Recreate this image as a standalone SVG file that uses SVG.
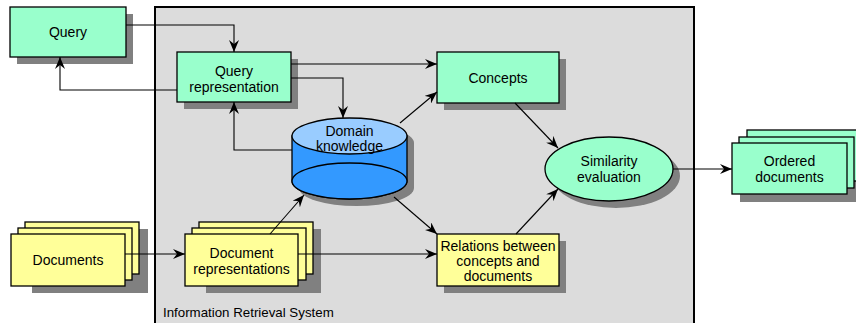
<svg xmlns="http://www.w3.org/2000/svg" width="856" height="323" viewBox="0 0 856 323">
<style>
text{font-family:"Liberation Sans",Arial,sans-serif;font-size:14px;fill:#000;text-anchor:middle}
.g{fill:#99ffcc;stroke:#000;stroke-width:1.3}
.y{fill:#ffff99;stroke:#000;stroke-width:1.3}
.sh{fill:#808080}
.c{fill:none;stroke:#000;stroke-width:1.1;marker-end:url(#ah)}
</style>
<defs>
<marker id="ah" viewBox="0 0 12 10" refX="12" refY="5" markerWidth="12" markerHeight="10" markerUnits="userSpaceOnUse" orient="auto">
<path d="M0,0 L12,5 L0,10 L4,5 z" fill="#000"/>
</marker>
</defs>
<rect width="856" height="323" fill="#fff"/>
<g id="system">
<rect x="155" y="7" width="539" height="330" fill="#dcdcdc" stroke="#000" stroke-width="2"/>
<text x="163" y="317" style="text-anchor:start;font-size:13.3px">Information Retrieval System</text>
</g>
<g id="query">
<rect class="sh" x="17" y="14" width="116" height="50"/>
<rect class="g" x="10" y="7" width="116" height="50"/>
<text x="68" y="37">Query</text>
</g>
<g id="query-representation">
<rect class="sh" x="184" y="59" width="114" height="50"/>
<rect class="g" x="177" y="52" width="114" height="50"/>
<text x="234" y="76">Query</text>
<text x="234" y="92">representation</text>
</g>
<g id="concepts">
<rect class="sh" x="444" y="59" width="122" height="51"/>
<rect class="g" x="437" y="52" width="122" height="51"/>
<text x="498" y="83">Concepts</text>
</g>
<g id="domain-knowledge">
<path class="sh" d="M299,143 A57.5,18 0 0 1 414,143 V188 A57.5,18 0 0 1 299,188 Z"/>
<path d="M292,136 V181 A57.5,18 0 0 0 407,181 V136 Z" fill="#3399ff" stroke="#000" stroke-width="1.3"/>
<ellipse cx="349.5" cy="181" rx="57.5" ry="18" fill="#3399ff" stroke="#000" stroke-width="1.3"/>
<ellipse cx="349.5" cy="136" rx="57.5" ry="18" fill="#99ccff" stroke="#000" stroke-width="1.3"/>
<text x="349.5" y="136">Domain</text>
<text x="349.5" y="151">knowledge</text>
</g>
<g id="documents">
<rect class="sh" x="32" y="229" width="116" height="64"/>
<rect class="y" x="25" y="222" width="114" height="52"/>
<rect class="y" x="18" y="228" width="114" height="52"/>
<rect class="y" x="11" y="234" width="114" height="52"/>
<text x="68" y="265">Documents</text>
</g>
<g id="document-representations">
<rect class="sh" x="206" y="229" width="115" height="64"/>
<rect class="y" x="199" y="222" width="114" height="52"/>
<rect class="y" x="192" y="228" width="114" height="52"/>
<rect class="y" x="185" y="234" width="113" height="52"/>
<text x="241.5" y="258">Document</text>
<text x="241.5" y="274">representations</text>
</g>
<g id="relations">
<rect class="sh" x="444" y="241" width="122" height="52"/>
<rect class="y" x="437" y="234" width="122" height="52"/>
<text x="498" y="251">Relations between</text>
<text x="498" y="266">concepts and</text>
<text x="498" y="281">documents</text>
</g>
<g id="similarity-evaluation">
<ellipse class="sh" cx="616" cy="176" rx="64" ry="32"/>
<ellipse class="g" cx="609" cy="169" rx="64" ry="32"/>
<text x="609" y="166">Similarity</text>
<text x="609" y="182">evaluation</text>
</g>
<g id="ordered-documents">
<rect class="sh" x="740" y="137" width="130" height="65"/>
<rect class="g" x="747" y="130" width="115" height="51"/>
<rect class="g" x="739" y="137" width="115" height="51"/>
<rect class="g" x="732" y="143" width="115" height="51"/>
<text x="789.5" y="166">Ordered</text>
<text x="789.5" y="182">documents</text>
</g>
<g id="connectors">
<path class="c" d="M126,25 H234 V52"/>
<path class="c" d="M177,90 H60 V57"/>
<path class="c" d="M291,64 H437"/>
<path class="c" d="M291,78 H343 V118"/>
<path class="c" d="M292,150 H234 V102"/>
<path class="c" d="M400,123 L437,92"/>
<path class="c" d="M394,197 L437,234"/>
<path class="c" d="M270,234 L304,195"/>
<path class="c" d="M125,254 H185"/>
<path class="c" d="M298,254 H437"/>
<path class="c" d="M515,103 L558,148"/>
<path class="c" d="M516,234 L558,189"/>
<path class="c" d="M673,169 H732"/>
</g>
</svg>
